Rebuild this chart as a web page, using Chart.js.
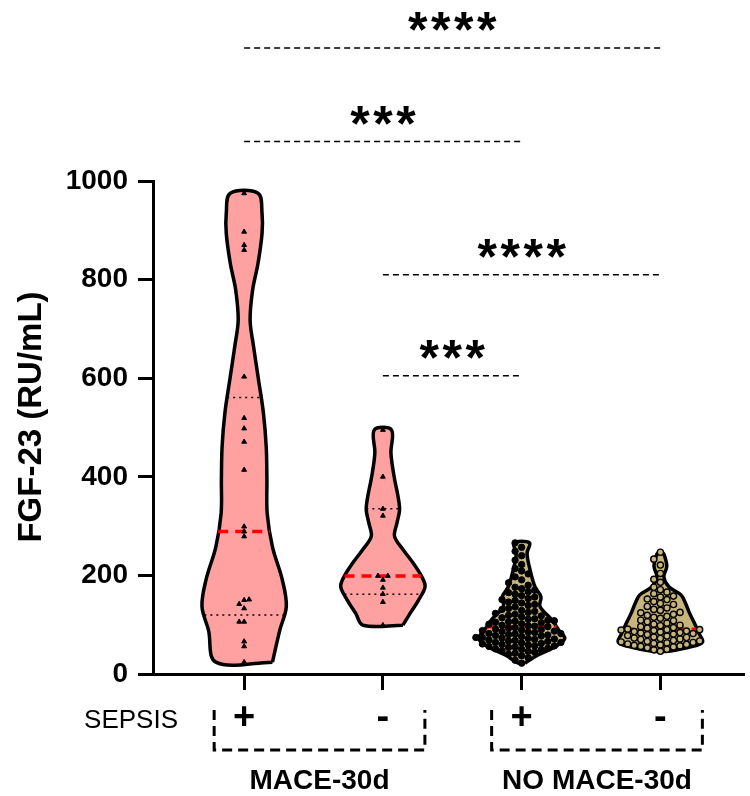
<!DOCTYPE html>
<html>
<head>
<meta charset="utf-8">
<script src="https://cdn.jsdelivr.net/npm/chart.js@4.4.1/dist/chart.umd.min.js"></script>
<style>
  html, body { margin: 0; padding: 0; background: #fff; }
  #c { display: block; }
</style>
</head>
<body>
<canvas id="c" width="750" height="796"></canvas>
<script>
// groups on the x axis
const groupX = [1, 2, 3, 4];
const sepsisMarks = ['+', '-', '+', '-'];
const outcomeNames = ['MACE-30d', 'NO MACE-30d'];
const outcomeFirst = [1, 3];
const outcomeLast = [2, 4];

// FGF-23 (RU/mL) per patient
const maceSepsis = [24, 56, 66, 106, 106, 133, 142, 150, 151, 279, 289, 299, 414, 471, 498, 519, 603, 860, 870, 897, 975];
const maceNoSepsis = [99, 146, 162, 175, 191, 199, 199, 321, 335, 400, 495];
const noMaceSepsis = [22, 28, 33, 37, 40, 42, 44, 46, 47, 49, 50, 51, 52, 54, 55,
  56, 57, 57, 59, 60, 61, 62, 63, 64, 64, 66, 67, 68, 69, 70, 71, 72,
  73, 74, 74, 76, 77, 78, 79, 80, 81, 82, 82, 84, 85, 86, 87, 88, 89,
  90, 91, 93, 94, 96, 97, 98, 99, 101, 102, 104, 105, 106, 107, 108, 109,
  111, 112, 114, 116, 118, 119, 121, 123, 125, 127, 129, 131, 133, 136,
  139, 141, 144, 146, 149, 151, 153, 156, 159, 162, 165, 167, 170, 173, 176,
  180, 185, 191, 197, 203, 209, 214, 222, 231, 240, 249, 257, 266];
const noMaceNoSepsis = [46, 49, 50, 53, 55, 56, 57, 58, 59, 60, 61, 62, 63, 64, 65, 66, 67, 68, 70, 71,
  72, 73, 74, 75, 77, 78, 80, 81, 82, 83, 84, 85, 86, 87, 88, 89, 90, 90, 91, 93,
  94, 96, 98, 99, 101, 103, 106, 108, 109, 113, 115, 117, 119, 121, 124, 125, 129, 131, 134, 137,
  141, 143, 147, 151, 152, 156, 158, 163, 166, 171, 176, 186, 192, 204, 221, 233, 247];

// violin outlines: half width (x units) at each FGF-23 level
const maceSepsisLevels = [24, 89, 137, 191, 258, 326, 394, 461, 529, 596, 664, 718, 779, 833, 894, 934, 975];
const maceSepsisWidths = [0.204, 0.257, 0.304, 0.275, 0.204, 0.166, 0.164, 0.159, 0.139, 0.104, 0.068, 0.043, 0.061, 0.1, 0.129, 0.129, 0.1];
const maceNoSepsisLevels = [99, 123, 150, 177, 197, 225, 252, 279, 306, 333, 360, 400, 448, 495];
const maceNoSepsisWidths = [0.144, 0.196, 0.257, 0.304, 0.281, 0.218, 0.146, 0.084, 0.101, 0.12, 0.109, 0.081, 0.058, 0.062];
const noMaceSepsisLevels = [22, 38, 55, 72, 89, 110, 137, 157, 177, 211, 245, 266];
const noMaceSepsisWidths = [0.025, 0.114, 0.239, 0.311, 0.268, 0.218, 0.132, 0.139, 0.096, 0.061, 0.039, 0.057];
const noMaceNoSepsisLevels = [46, 55, 65, 82, 103, 123, 143, 160, 177, 197, 218, 238, 247];
const noMaceNoSepsisWidths = [0.061, 0.218, 0.304, 0.279, 0.246, 0.211, 0.182, 0.15, 0.061, 0.025, 0.046, 0.032, 0.014];

// pairwise comparisons
const sigFrom = [1, 1, 2, 2];
const sigTo = [4, 3, 4, 3];
const sigLabel = ['****', '***', '****', '***'];
const sigLevel = [1270, 1080, 810, 605];

// plot frame
const W = 750, H = 796;
const AREA = { left: 153, top: 181, bottom: 674 };
const X_MIN = 0.343, X_MAX = 4.607;
const PX_X = (W - AREA.left) / (X_MAX - X_MIN);
const PX_Y = (AREA.bottom - AREA.top) / 1000;

const PINK = '#ffa1a1';
const TAN = '#c8b57c';
const FONT = '"Liberation Sans", Arial, sans-serif';

function quantile(values, p) {
  const s = values.slice().sort((a, b) => a - b);
  const pos = Math.min(Math.max((s.length + 1) * p - 1, 0), s.length - 1);
  const lo = Math.floor(pos), hi = Math.min(lo + 1, s.length - 1);
  return s[lo] + (s[hi] - s[lo]) * (pos - lo);
}

function widthAt(levels, widths, v) {
  for (let i = 1; i < levels.length; i++) {
    if (v <= levels[i]) {
      const t = (v - levels[i - 1]) / (levels[i] - levels[i - 1]);
      return widths[i - 1] + (widths[i] - widths[i - 1]) * t;
    }
  }
  return widths[widths.length - 1];
}

function outline(center, levels, widths) {
  const right = levels.map((v, i) => ({ x: center + widths[i], y: v }));
  const left = levels.map((v, i) => ({ x: center - widths[i], y: v })).reverse();
  return right.concat(left, [right[0]]);
}

// column scatter: each point goes in the nearest column where it does not overlap
function swarm(values, center, step, gap) {
  const cols = {};
  return values.slice().sort((a, b) => a - b).map(v => {
    const py = v * PX_Y;
    for (let k = 0; ; k++) {
      const col = k === 0 ? 0 : (k % 2 ? -Math.ceil(k / 2) : Math.ceil(k / 2));
      const last = cols[col];
      if (last === undefined || py - last >= gap) {
        cols[col] = py;
        return { x: center + col * step / PX_X, y: v };
      }
    }
  });
}

const violins = [
  { x: groupX[0], values: maceSepsis, levels: maceSepsisLevels, widths: maceSepsisWidths, fill: PINK, quartiles: true,
    point: { pointStyle: 'triangle', pointRadius: 2.8, backgroundColor: '#000', borderColor: '#000', borderWidth: 1 }, step: 5, gap: 4.6 },
  { x: groupX[1], values: maceNoSepsis, levels: maceNoSepsisLevels, widths: maceNoSepsisWidths, fill: PINK, quartiles: true,
    point: { pointStyle: 'triangle', pointRadius: 2.8, backgroundColor: '#000', borderColor: '#000', borderWidth: 1 }, step: 5, gap: 4.6 },
  { x: groupX[2], values: noMaceSepsis, levels: noMaceSepsisLevels, widths: noMaceSepsisWidths, fill: TAN, quartiles: false,
    point: { pointStyle: 'circle', pointRadius: 3.2, backgroundColor: '#000', borderColor: '#000', borderWidth: 1 }, step: 6.6, gap: 6 },
  { x: groupX[3], values: noMaceNoSepsis, levels: noMaceNoSepsisLevels, widths: noMaceNoSepsisWidths, fill: TAN, quartiles: false,
    point: { pointStyle: 'circle', pointRadius: 3.1, backgroundColor: TAN, borderColor: '#000', borderWidth: 1.4 }, step: 6.6, gap: 6 }
];

const datasets = [];
violins.forEach(v => {
  datasets.push({
    data: outline(v.x, v.levels, v.widths),
    fill: 'shape', backgroundColor: v.fill, borderColor: '#000', borderWidth: 3.5,
    tension: 0.35, pointRadius: 0, order: 3, clip: false
  });
  const med = quantile(v.values, 0.5);
  const mw = widthAt(v.levels, v.widths, med);
  datasets.push({
    data: [{ x: v.x - mw, y: med }, { x: v.x + mw, y: med }],
    borderColor: '#ff0000', borderWidth: 3.5, borderDash: [10, 7], pointRadius: 0, fill: false, order: 2
  });
  if (v.quartiles) {
    [0.25, 0.75].forEach(p => {
      const q = quantile(v.values, p);
      const qw = widthAt(v.levels, v.widths, q);
      datasets.push({
        data: [{ x: v.x - qw, y: q }, { x: v.x + qw, y: q }],
        borderColor: '#000', borderWidth: 1.5, borderDash: [2, 4], pointRadius: 0, fill: false, order: 2
      });
    });
  }
  datasets.push(Object.assign({
    data: swarm(v.values, v.x, v.step, v.gap), showLine: false, order: 1, clip: false
  }, v.point));
});

const annotations = {
  id: 'annotations',
  afterDraw(chart) {
    const { ctx, scales: { x, y } } = chart;
    ctx.save();
    ctx.fillStyle = '#000';
    ctx.strokeStyle = '#000';

    // y axis title
    ctx.save();
    ctx.translate(32, 417);
    ctx.rotate(-Math.PI / 2);
    ctx.font = 'bold 33px ' + FONT;
    ctx.textAlign = 'center';
    ctx.textBaseline = 'middle';
    ctx.fillText('FGF-23 (RU/mL)', 0, 0);
    ctx.restore();

    // significance bars
    sigFrom.forEach((from, i) => {
      const py = y.getPixelForValue(sigLevel[i]);
      const x0 = x.getPixelForValue(from), x1 = x.getPixelForValue(sigTo[i]);
      ctx.lineWidth = 1.5;
      ctx.setLineDash([6, 4]);
      ctx.beginPath();
      ctx.moveTo(x0, py);
      ctx.lineTo(x1, py);
      ctx.stroke();
      ctx.setLineDash([]);
      ctx.font = 'bold 50px ' + FONT;
      ctx.textAlign = 'center';
      ctx.textBaseline = 'alphabetic';
      const label = sigLabel[i];
      const cx = (x0 + x1) / 2;
      for (let k = 0; k < label.length; k++) {
        ctx.fillText(label[k], cx + (k - (label.length - 1) / 2) * 23, py - 29 + 28);
      }
    });

    // sepsis row caption
    ctx.font = '26px ' + FONT;
    ctx.textAlign = 'right';
    ctx.textBaseline = 'middle';
    ctx.fillText('SEPSIS', 178, 721);

    // outcome brackets and names
    outcomeNames.forEach((name, i) => {
      const left = x.getPixelForValue(outcomeFirst[i]) - 30;
      const right = x.getPixelForValue(outcomeLast[i]) + 42;
      ctx.lineWidth = 3;
      ctx.setLineDash([10, 6]);
      ctx.beginPath();
      ctx.moveTo(left, 710);
      ctx.lineTo(left, 750);
      ctx.lineTo(right, 750);
      ctx.lineTo(right, 710);
      ctx.stroke();
      ctx.setLineDash([]);
      ctx.font = 'bold 28px ' + FONT;
      ctx.textAlign = 'center';
      ctx.textBaseline = 'middle';
      ctx.fillText(name, (left + right) / 2, 781);
    });
    ctx.restore();
  }
};

new Chart(document.getElementById('c'), {
  type: 'line',
  data: { datasets },
  options: {
    responsive: false,
    animation: false,
    devicePixelRatio: 1,
    layout: { padding: { top: AREA.top, right: 0, bottom: 0, left: 0 } },
    plugins: { legend: { display: false }, tooltip: { enabled: false } },
    scales: {
      x: {
        type: 'linear', min: X_MIN, max: X_MAX,
        afterBuildTicks: s => { s.ticks = groupX.map(v => ({ value: v })); },
        afterFit: s => { s.height = H - AREA.bottom; },
        ticks: {
          callback: v => sepsisMarks[groupX.indexOf(v)],
          font: { family: FONT, size: 38, weight: 'bold' }, color: '#000',
          padding: 6, maxRotation: 0, autoSkip: false
        },
        grid: { drawOnChartArea: false, tickLength: 16, tickWidth: 3, tickColor: '#000' },
        border: { color: '#000', width: 3 }
      },
      y: {
        min: 0, max: 1000,
        afterFit: s => { s.width = AREA.left; },
        ticks: {
          stepSize: 200, callback: v => String(v),
          font: { family: FONT, size: 28, weight: 'bold' }, color: '#000', padding: 10
        },
        grid: { drawOnChartArea: false, tickLength: 15, tickWidth: 3, tickColor: '#000' },
        border: { color: '#000', width: 3 }
      }
    }
  },
  plugins: [annotations]
});
</script>
</body>
</html>
